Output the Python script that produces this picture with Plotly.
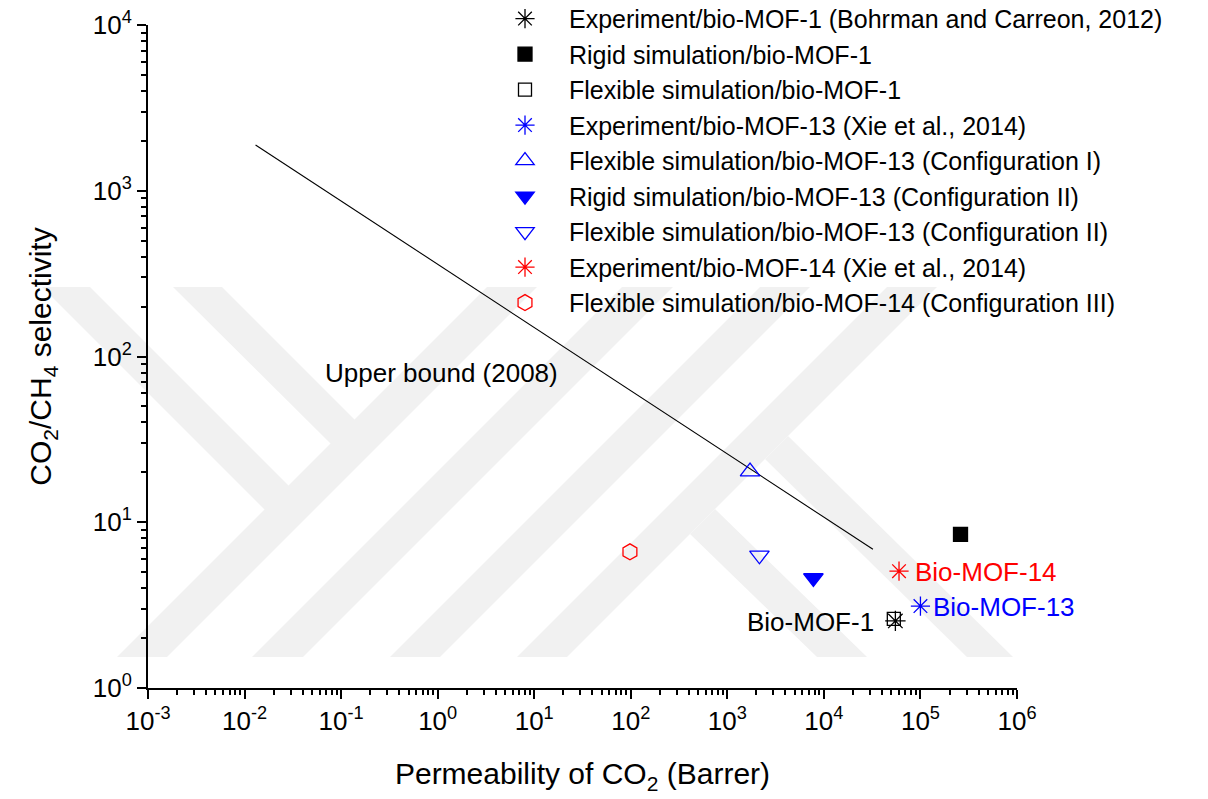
import math
import plotly.graph_objects as go

# ---- data ----
ub_x = [0.013, 3.22e4]
ub_y = [1888, 6.87]

series_names = [
    "Experiment/bio-MOF-1 (Bohrman and Carreon, 2012)",
    "Rigid simulation/bio-MOF-1",
    "Flexible simulation/bio-MOF-1",
    "Experiment/bio-MOF-13 (Xie et al., 2014)",
    "Flexible simulation/bio-MOF-13 (Configuration I)",
    "Rigid simulation/bio-MOF-13 (Configuration II)",
    "Flexible simulation/bio-MOF-13 (Configuration II)",
    "Experiment/bio-MOF-14 (Xie et al., 2014)",
    "Flexible simulation/bio-MOF-14 (Configuration III)",
]
series_x = [5.5e4, 2.6e5, 5.3e4, 1.0e5, 1718, 7785, 2150, 6.0e4, 98]
series_y = [2.54, 8.44, 2.61, 3.12, 20.2, 4.61, 6.32, 5.07, 6.63]
series_symbol = ["asterisk-open", "square", "square-open", "asterisk-open",
                 "triangle-up-open", "triangle-down", "triangle-down-open",
                 "asterisk-open", "hexagon-open"]
series_color = ["black", "black", "black", "blue", "blue", "blue", "blue", "red", "red"]
series_size = [17, 14, 13, 16, 17, 17, 17, 16, 16]

x_tickvals = [1e-3, 1e-2, 1e-1, 1, 1e1, 1e2, 1e3, 1e4, 1e5, 1e6]
x_ticktext = ["10<sup>-3</sup>", "10<sup>-2</sup>", "10<sup>-1</sup>", "10<sup>0</sup>",
              "10<sup>1</sup>", "10<sup>2</sup>", "10<sup>3</sup>", "10<sup>4</sup>",
              "10<sup>5</sup>", "10<sup>6</sup>"]
y_tickvals = [1, 10, 100, 1000, 10000]
y_ticktext = ["10<sup>0</sup>", "10<sup>1</sup>", "10<sup>2</sup>", "10<sup>3</sup>", "10<sup>4</sup>"]

labels = [("Upper bound (2008)", 0.065, 79.4, "left", "black"),
          ("Bio-MOF-14", 8.3e4, 5.01, "left", "red"),
          ("Bio-MOF-13", 1.3e5, 3.09, "left", "blue"),
          ("Bio-MOF-1", 3.49e4, 2.51, "right", "black")]

FONT = "Arial, Liberation Sans, sans-serif"
W, H = 1208, 799
L, R, T, B = 148, 1017, 25, 688  # plot area in pixels

fig = go.Figure()

# ---- watermark (background decoration, pixel polygons) ----
def px2paper(pts):
    return [((x - L) / (R - L), (B - y) / (B - T)) for x, y in pts]

bands = [
    [(117, 657), (167, 657), (537, 287), (487, 287)],
    [(252, 657), (303, 657), (673, 287), (622, 287)],
    [(390, 657), (440, 657), (810, 287), (760, 287)],
    [(517, 657), (567, 657), (937, 287), (887, 287)],
    [(42, 287), (90, 287), (290, 487), (266, 511)],
    [(173, 287), (222, 287), (356, 421), (332, 445)],
    [(690, 534), (715, 509), (867, 657), (817, 657)],
    [(765, 459), (788, 436), (1013, 657), (967, 657)],
]
for b in bands:
    p = px2paper(b)
    path = "M " + " L ".join(f"{x:.5f},{y:.5f}" for x, y in p) + " Z"
    fig.add_shape(type="path", path=path, xref="paper", yref="paper",
                  fillcolor="#f1f1f1", line=dict(width=0), layer="below")

# ---- upper bound line ----
fig.add_trace(go.Scatter(x=ub_x, y=ub_y, mode="lines",
                         line=dict(color="black", width=1.1), showlegend=False,
                         hoverinfo="skip"))

# ---- series ----
for n, x, y, s, c, sz in zip(series_names, series_x, series_y, series_symbol,
                              series_color, series_size):
    fig.add_trace(go.Scatter(
        x=[x], y=[y], mode="markers", name=n,
        marker=dict(symbol=s, size=sz, color=c,
                    line=dict(color=c, width=1.3)),
    ))

for txt, x, y, anc, col in labels:
    fig.add_annotation(x=math.log10(x), y=math.log10(y), xref="x", yref="y",
                       text=txt, showarrow=False, xanchor=anc, yanchor="middle",
                       font=dict(size=26, color=col, family=FONT))

axis_common = dict(
    type="log", showline=True, linecolor="black", linewidth=2,
    ticks="outside", ticklen=9, tickwidth=2, tickcolor="black",
    showgrid=False, zeroline=False,
    tickfont=dict(size=26, color="black", family=FONT),
    minor=dict(ticks="outside", ticklen=5, tickwidth=1.5, tickcolor="black",
               dtick="D1", showgrid=False),
)

fig.update_layout(
    width=W, height=H,
    margin=dict(l=L, r=W - R, t=T, b=H - B, autoexpand=False),
    paper_bgcolor="white", plot_bgcolor="rgba(0,0,0,0)",
    font=dict(family=FONT, color="black"),
    xaxis=dict(axis_common, range=[-3, 6], tickmode="array",
               tickvals=x_tickvals, ticktext=x_ticktext,
               title=dict(text="Permeability of CO<sub>2</sub> (Barrer)",
                          font=dict(size=30, family=FONT), standoff=28)),
    yaxis=dict(axis_common, range=[0, 4], tickmode="array",
               tickvals=y_tickvals, ticktext=y_ticktext,
               title=dict(text="CO<sub>2</sub>/CH<sub>4</sub> selectivity",
                          font=dict(size=30, family=FONT), standoff=32)),
    legend=dict(x=0.3832, y=1.044, xanchor="left", yanchor="top",
                font=dict(size=25, family=FONT), bgcolor="rgba(0,0,0,0)",
                tracegroupgap=0, itemwidth=78),
    showlegend=True,
)

fig.write_html("out.html")
